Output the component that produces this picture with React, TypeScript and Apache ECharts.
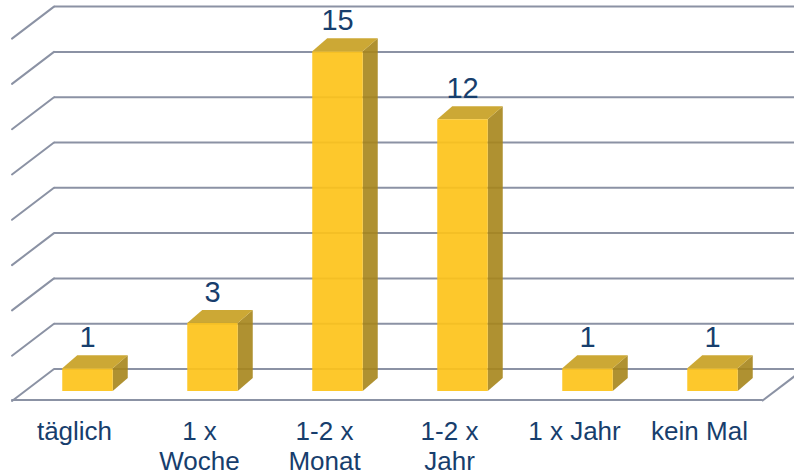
import React, { useEffect, useRef } from "react";
import * as echarts from "echarts";

const categories = ["täglich", "1 x\nWoche", "1-2 x\nMonat", "1-2 x\nJahr", "1 x Jahr", "kein Mal"];
const values = [1, 3, 15, 12, 1, 1];
const yMin = 0;
const yMax = 16;
const yStep = 2;
const gridTicks = [0, 2, 4, 6, 8, 10, 12, 14, 16];

const TEXT = "#173E6D";
const GRIDLINE = "#8B92A4";
const FONT = "'Liberation Sans', Arial, sans-serif";

// perspective offsets relative to the bar-front plane (grid 0)
const BACK_DX = 29;
const BACK_DY = -22;
const FRONT_DX = -13;
const FRONT_DY = 10;
const BAR_DEPTH_DX = 15;
const BAR_DEPTH_DY = -13;

export default function App() {
  const ref = useRef<HTMLDivElement>(null);
  useEffect(() => {
    if (!ref.current) return;
    const chart = echarts.init(ref.current, null, { renderer: "svg" });
    const option: any = {
      animation: false,
      backgroundColor: "#ffffff",
      grid: [
        { left: 25, top: 28.6, width: 750, height: 362.4 },
        { left: 12, top: 38.6, width: 750, height: 362.4 },
      ],
      xAxis: [
        {
          gridIndex: 0,
          type: "category",
          data: categories,
          axisLine: { show: false },
          axisTick: { show: false },
          axisLabel: { show: false },
        },
        {
          gridIndex: 1,
          type: "category",
          data: categories,
          axisLine: { show: true, lineStyle: { color: GRIDLINE, width: 2 } },
          axisTick: { show: false },
          axisLabel: {
            show: true,
            interval: 0,
            margin: 16,
            color: TEXT,
            fontSize: 26,
            lineHeight: 30,
            fontFamily: FONT,
          },
        },
      ],
      yAxis: [
        {
          gridIndex: 0,
          type: "value",
          min: yMin,
          max: yMax,
          interval: yStep,
          show: false,
          splitLine: { show: false },
        },
        {
          gridIndex: 1,
          type: "value",
          min: yMin,
          max: yMax,
          interval: yStep,
          show: false,
          splitLine: { show: false },
        },
      ],
      series: [
        {
          type: "custom",
          xAxisIndex: 0,
          yAxisIndex: 0,
          data: gridTicks.map((t) => [0, t]),
          silent: true,
          clip: false,
          z: 1,
          renderItem: (params: any, api: any) => {
            const v = api.value(1);
            const y = api.coord([0, v])[1];
            const cs = params.coordSys;
            const x0 = cs.x;
            const xr = cs.x + cs.width;
            const children: any[] = [
              {
                type: "line",
                shape: { x1: x0 + BACK_DX, y1: y + BACK_DY, x2: xr + BACK_DX, y2: y + BACK_DY },
                style: { stroke: GRIDLINE, lineWidth: 2 },
              },
              {
                type: "line",
                shape: { x1: x0 + BACK_DX, y1: y + BACK_DY, x2: x0 + FRONT_DX, y2: y + FRONT_DY },
                style: { stroke: GRIDLINE, lineWidth: 2, lineCap: "round" },
              },
            ];
            if (v === 0) {
              children.push({
                type: "line",
                shape: { x1: xr + FRONT_DX, y1: y + FRONT_DY, x2: xr + BACK_DX, y2: y + BACK_DY },
                style: { stroke: GRIDLINE, lineWidth: 2 },
              });
            }
            return { type: "group", children };
          },
        },
        {
          type: "custom",
          xAxisIndex: 0,
          yAxisIndex: 0,
          data: values.map((v, i) => [i, v]),
          clip: false,
          z: 5,
          renderItem: (params: any, api: any) => {
            const i = api.value(0);
            const v = api.value(1);
            const top = api.coord([i, v]);
            const base = api.coord([i, 0]);
            const hw = api.size([1, 0])[0] * 0.202;
            const cx = top[0];
            const yt = top[1];
            const yb = base[1];
            const dx = BAR_DEPTH_DX;
            const dy = BAR_DEPTH_DY;
            return {
              type: "group",
              children: [
                {
                  type: "polygon",
                  shape: {
                    points: [
                      [cx + hw, yt],
                      [cx + hw + dx, yt + dy],
                      [cx + hw + dx, yb + dy],
                      [cx + hw, yb],
                    ],
                  },
                  style: { fill: "#A6851B", opacity: 0.9 },
                },
                {
                  type: "polygon",
                  shape: {
                    points: [
                      [cx - hw, yt],
                      [cx - hw + dx, yt + dy],
                      [cx + hw + dx, yt + dy],
                      [cx + hw, yt],
                    ],
                  },
                  style: { fill: "#C69E1F", opacity: 0.9 },
                },
                {
                  type: "rect",
                  shape: { x: cx - hw, y: yt, width: hw * 2, height: yb - yt },
                  style: { fill: "#FDC31A", opacity: 0.92 },
                },
                {
                  type: "text",
                  x: cx,
                  y: yt + dy - 4,
                  style: {
                    text: String(v),
                    fill: TEXT,
                    fontSize: 29,
                    fontFamily: FONT,
                    align: "center",
                    verticalAlign: "bottom",
                  },
                },
              ],
            };
          },
        },
      ],
    };
    chart.setOption(option);
    return () => chart.dispose();
  }, []);
  return (
    <div
      ref={ref}
      style={{ position: "fixed", left: 0, top: 0, width: 794, height: 476 }}
    />
  );
}
